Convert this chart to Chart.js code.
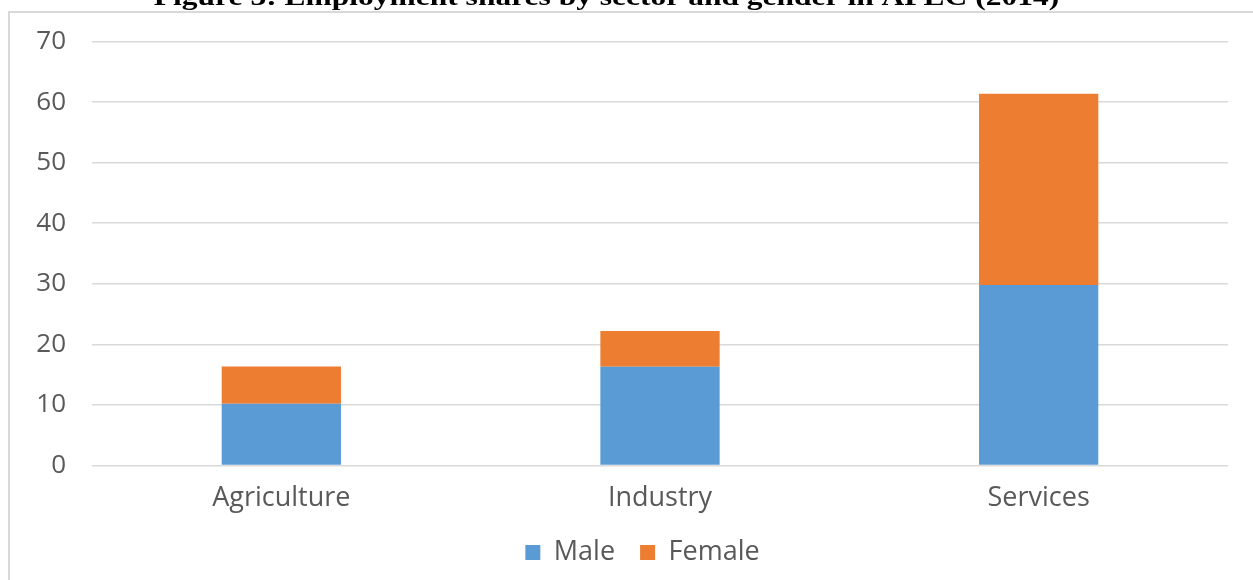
<!DOCTYPE html>
<html>
<head>
<meta charset="utf-8">
<script src="https://cdn.jsdelivr.net/npm/chart.js@4.4.0/dist/chart.umd.min.js"></script>
<style>
  html, body { margin: 0; padding: 0; background: #ffffff; }
  #wrap { position: relative; width: 1253px; height: 580px; }
</style>
</head>
<body>
<div id="wrap"><canvas id="c" width="1253" height="580"></canvas></div>
<script>
const titleText = "Figure 3: Employment shares by sector and gender in APEC (2014)";
const categories = ["Agriculture", "Industry", "Services"];
const maleValues = [10.2, 16.3, 29.8];
const femaleValues = [6.15, 5.9, 31.6];
const seriesNames = ["Male", "Female"];
const yTicks = [0, 10, 20, 30, 40, 50, 60, 70];

const frameAndTitle = {
  id: 'frameAndTitle',
  afterLayout(chart) {
    if (chart.legend) {
      chart.legend.left += 21;
    }
  },
  beforeDraw(chart) {
    const ctx = chart.ctx;
    ctx.save();
    ctx.fillStyle = '#ffffff';
    ctx.fillRect(0, 0, chart.width, chart.height);
    ctx.strokeStyle = '#d9d9d9';
    ctx.lineWidth = 2;
    ctx.strokeRect(9, 12, chart.width + 20, chart.height + 20);
    ctx.restore();
  },
  afterDraw(chart) {
    const ctx = chart.ctx;
    ctx.save();
    ctx.font = 'bold 25px "Liberation Serif", "Times New Roman", serif';
    ctx.fillStyle = '#000000';
    ctx.textAlign = 'center';
    ctx.textBaseline = 'alphabetic';
    const sx = 1.26;
    ctx.translate(606.5, 5);
    ctx.scale(sx, 1);
    ctx.fillText(titleText, 0, 0);
    ctx.restore();
  }
};

const yFont = { family: '"Open Sans", "Noto Sans", sans-serif', size: 26 };
const xFont = { family: '"Open Sans", "Noto Sans", sans-serif', size: 27 };

new Chart(document.getElementById('c'), {
  type: 'bar',
  data: {
    labels: categories,
    datasets: [
      { label: seriesNames[0], data: maleValues, backgroundColor: '#5B9BD5', borderWidth: 0 },
      { label: seriesNames[1], data: femaleValues, backgroundColor: '#ED7D31', borderWidth: 0 }
    ]
  },
  options: {
    responsive: false,
    animation: false,
    devicePixelRatio: 1,
    layout: { padding: { left: 36, right: 25, top: 41, bottom: 4 } },
    datasets: { bar: { categoryPercentage: 1.0, barPercentage: 0.315 } },
    scales: {
      x: {
        stacked: true,
        grid: { display: false, drawTicks: false },
        border: { display: false },
        ticks: { color: '#595959', font: xFont, padding: 17, maxRotation: 0 },
        afterFit(scale) { scale.height = 48.6; }
      },
      y: {
        stacked: true,
        min: 0,
        max: 70,
        afterBuildTicks(scale) { scale.ticks = yTicks.map(v => ({ value: v })); },
        grid: { color: '#d9d9d9', lineWidth: 1.5, drawTicks: false },
        border: { display: false },
        ticks: { color: '#595959', font: yFont, padding: 26 },
        afterFit(scale) { scale.width = 56; }
      }
    },
    plugins: {
      legend: {
        position: 'bottom',
        labels: { color: '#595959', font: xFont, boxWidth: 15, boxHeight: 15, padding: 25 }
      },
      tooltip: { enabled: false },
      title: { display: false }
    }
  },
  plugins: [frameAndTitle]
});
</script>
</body>
</html>
